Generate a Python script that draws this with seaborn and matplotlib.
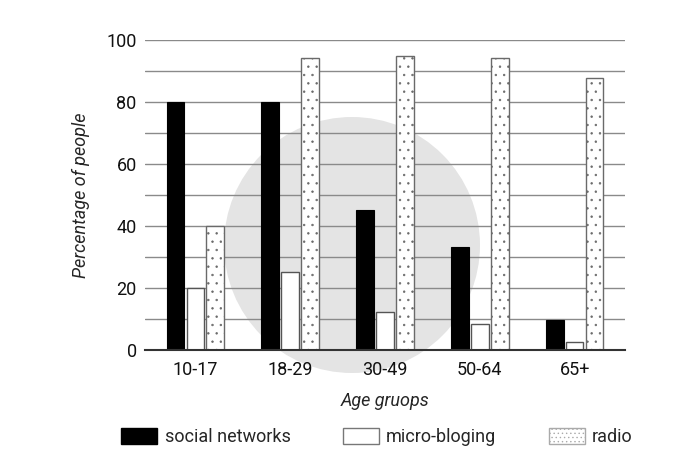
import matplotlib
matplotlib.use("Agg")
import matplotlib.pyplot as plt
import seaborn as sns
import pandas as pd
from matplotlib.patches import Patch, Circle

age_groups = ["10-17", "18-29", "30-49", "50-64", "65+"]
social_networks = [80, 80, 45.2, 33.1, 9.7]
micro_bloging = [20, 25.2, 12.4, 8.4, 2.5]
radio = [40, 94.1, 95, 94.3, 87.8]
series_names = ["social networks", "micro-bloging", "radio"]

rows = []
for name, vals in zip(series_names, [social_networks, micro_bloging, radio]):
    for g, v in zip(age_groups, vals):
        rows.append({"Age": g, "Series": name, "Value": v})
df = pd.DataFrame(rows)

sns.set_style("white")
plt.rcParams['font.family'] = ['Roboto', 'DejaVu Sans']
plt.rcParams['hatch.linewidth'] = 0.5

fig = plt.figure(figsize=(7, 4.66), dpi=100)
ax = fig.add_axes([145 / 700, 1 - 350 / 466, 480 / 700, 310 / 466])

palette = {"social networks": "black", "micro-bloging": "white", "radio": "white"}
sns.barplot(data=df, x="Age", y="Value", hue="Series", order=age_groups,
            hue_order=series_names, palette=palette, width=0.63, gap=0.12,
            ax=ax, legend=False, zorder=3)

for i, bar in enumerate(ax.patches):
    s = i // len(age_groups)
    if s == 0:
        bar.set_edgecolor("black")
        bar.set_linewidth(0.8)
    elif s == 1:
        bar.set_edgecolor("#555555")
        bar.set_linewidth(1.0)
    else:
        bar.set_edgecolor("#6a6a6a")
        bar.set_linewidth(1.0)
        bar.set_hatch("..")

# faint watermark circle behind everything
wm = Circle((352, 466 - 245), 128, transform=None, facecolor="#e4e4e4",
            edgecolor="none", zorder=0.5, clip_on=False)
ax.add_patch(wm)

ax.set_xlim(-0.53, 4.53)
ax.set_ylim(0, 100)
ax.set_yticks(range(0, 101, 20))
ax.set_yticks(range(0, 101, 10), minor=True)
ax.grid(axis="y", which="both", color="#8a8a8a", linewidth=1.0, zorder=1)
ax.set_axisbelow(True)
for sp in ["left", "right", "top"]:
    ax.spines[sp].set_visible(False)
ax.spines["bottom"].set_color("#333333")
ax.spines["bottom"].set_linewidth(1.5)
ax.spines["bottom"].set_zorder(4)
ax.tick_params(axis="both", which="both", length=0, labelsize=13, colors="#111111", pad=6)
ax.tick_params(axis="x", pad=8)

ax.set_ylabel("Percentage of people", fontsize=13, fontstyle="italic", labelpad=12)
ax.set_xlabel("Age gruops", fontsize=13, fontstyle="italic", labelpad=9)

handles = [
    Patch(facecolor="black", edgecolor="black", label="social networks"),
    Patch(facecolor="white", edgecolor="#777777", label="micro-bloging"),
    Patch(facecolor="white", edgecolor="#aaaaaa", hatch="....", label="radio"),
]
fig.legend(handles=handles, loc="center", bbox_to_anchor=(377 / 700, 1 - 437 / 466),
           ncol=3, frameon=False, fontsize=13, handlelength=2.0, handleheight=1.0,
           columnspacing=2.9, handletextpad=0.4)

fig.savefig("out.png", dpi=100)
